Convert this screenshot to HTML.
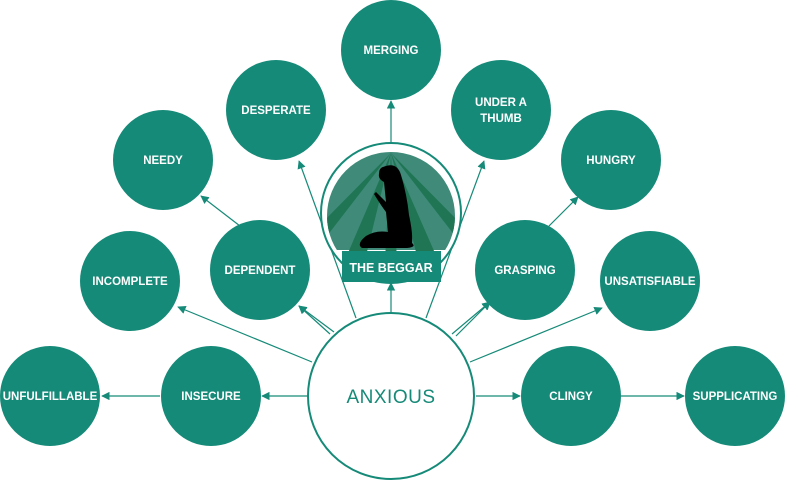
<!DOCTYPE html>
<html><head><meta charset="utf-8"><style>
body{margin:0;background:#fff}
svg{display:block;font-family:"Liberation Sans",sans-serif}
.n text{fill:#fff;font-size:11.5px;font-weight:bold;text-anchor:middle}
line{stroke:#168a78;stroke-width:1.2}
</style></head><body>
<svg width="792" height="488" viewBox="0 0 792 488">
<defs>
<marker id="ah" viewBox="0 0 10 10" refX="9" refY="5" markerWidth="7" markerHeight="7" orient="auto-start-reverse"><path d="M0,0 L10,5 L0,10 z" fill="#168a78"/></marker>
<clipPath id="bc"><circle cx="391" cy="216" r="64"/></clipPath>
</defs>
<g marker-end="url(#ah)">
<line x1="307" y1="396" x2="262" y2="396" marker-end="url(#ah)"/>
<line x1="160" y1="396" x2="102" y2="396" marker-end="url(#ah)"/>
<line x1="476" y1="396" x2="520" y2="396" marker-end="url(#ah)"/>
<line x1="621" y1="396" x2="684" y2="396" marker-end="url(#ah)"/>
<line x1="312" y1="362" x2="178" y2="307" marker-end="url(#ah)"/>
<line x1="470" y1="362" x2="602" y2="308" marker-end="url(#ah)"/>
<line x1="330" y1="334" x2="299" y2="306" marker-end="url(#ah)"/>
<line x1="334" y1="332" x2="299" y2="306" marker-end="url(#ah)"/>
<line x1="452" y1="334" x2="490" y2="302" marker-end="url(#ah)"/>
<line x1="456" y1="336" x2="490" y2="302" marker-end="url(#ah)"/>
<line x1="240" y1="226" x2="201" y2="196" marker-end="url(#ah)"/>
<line x1="549" y1="226" x2="578" y2="197" marker-end="url(#ah)"/>
<line x1="356" y1="318" x2="299" y2="161" marker-end="url(#ah)"/>
<line x1="426" y1="318" x2="484" y2="161" marker-end="url(#ah)"/>
<line x1="391" y1="312" x2="391" y2="283" marker-end="url(#ah)"/>
<line x1="391" y1="143" x2="391" y2="101" marker-end="url(#ah)"/>
</g>
<g>
<circle cx="391" cy="396" r="83" fill="#fff" stroke="#168a78" stroke-width="2"/>
<text x="391" y="403" fill="#168a78" font-size="19" text-anchor="middle" letter-spacing="0.5">ANXIOUS</text>
</g>
<g>
<circle cx="391" cy="213" r="70" fill="#fff" stroke="#168a78" stroke-width="2"/>
<g clip-path="url(#bc)">
<rect x="320" y="150" width="150" height="100" fill="#3f8a78"/>
<path d="M391,153 L320,225 L320,245 Z M391,153 L345,260 L365,260 Z M391,153 L385,260 L397,260 Z M391,153 L418,260 L438,260 Z M391,153 L462,225 L462,245 Z" fill="#1f7554"/>
<path d="M383,167 q14,-6 18,8 q6,20 8,40 q4,18 3,28 q5,4 -5,5 l-45,0 q-6,-4 4,-12 q10,-6 22,-4 l-2,-20 q-6,-8 -12,-18 l2,-2 q6,6 10,10 l-2,-20 q-6,-3 -5,-8 q0,-6 4,-7 z" fill="#000"/>
</g>
<rect x="342" y="251" width="99" height="31" fill="#168a78"/>
<text x="391" y="272" fill="#fff" font-size="12.5" font-weight="bold" text-anchor="middle">THE BEGGAR</text>
</g>
<g class="n" fill="#168a78">
<g><circle cx="50" cy="396" r="50"/><text x="50" y="400">UNFULFILLABLE</text></g>
<g><circle cx="211" cy="396" r="50"/><text x="211" y="400">INSECURE</text></g>
<g><circle cx="571" cy="396" r="50"/><text x="571" y="400">CLINGY</text></g>
<g><circle cx="735" cy="396" r="50"/><text x="735" y="400">SUPPLICATING</text></g>
<g><circle cx="130" cy="281" r="50"/><text x="130" y="285">INCOMPLETE</text></g>
<g><circle cx="260" cy="270" r="50"/><text x="260" y="274">DEPENDENT</text></g>
<g><circle cx="163" cy="160" r="50"/><text x="163" y="164">NEEDY</text></g>
<g><circle cx="276" cy="110" r="50"/><text x="276" y="114">DESPERATE</text></g>
<g><circle cx="391" cy="50" r="50"/><text x="391" y="54">MERGING</text></g>
<g><circle cx="501" cy="110" r="50"/><text x="501" y="106">UNDER A</text><text x="501" y="122">THUMB</text></g>
<g><circle cx="611" cy="160" r="50"/><text x="611" y="164">HUNGRY</text></g>
<g><circle cx="525" cy="270" r="50"/><text x="525" y="274">GRASPING</text></g>
<g><circle cx="650" cy="281" r="50"/><text x="650" y="285">UNSATISFIABLE</text></g>
</g>
</svg>
</body></html>
